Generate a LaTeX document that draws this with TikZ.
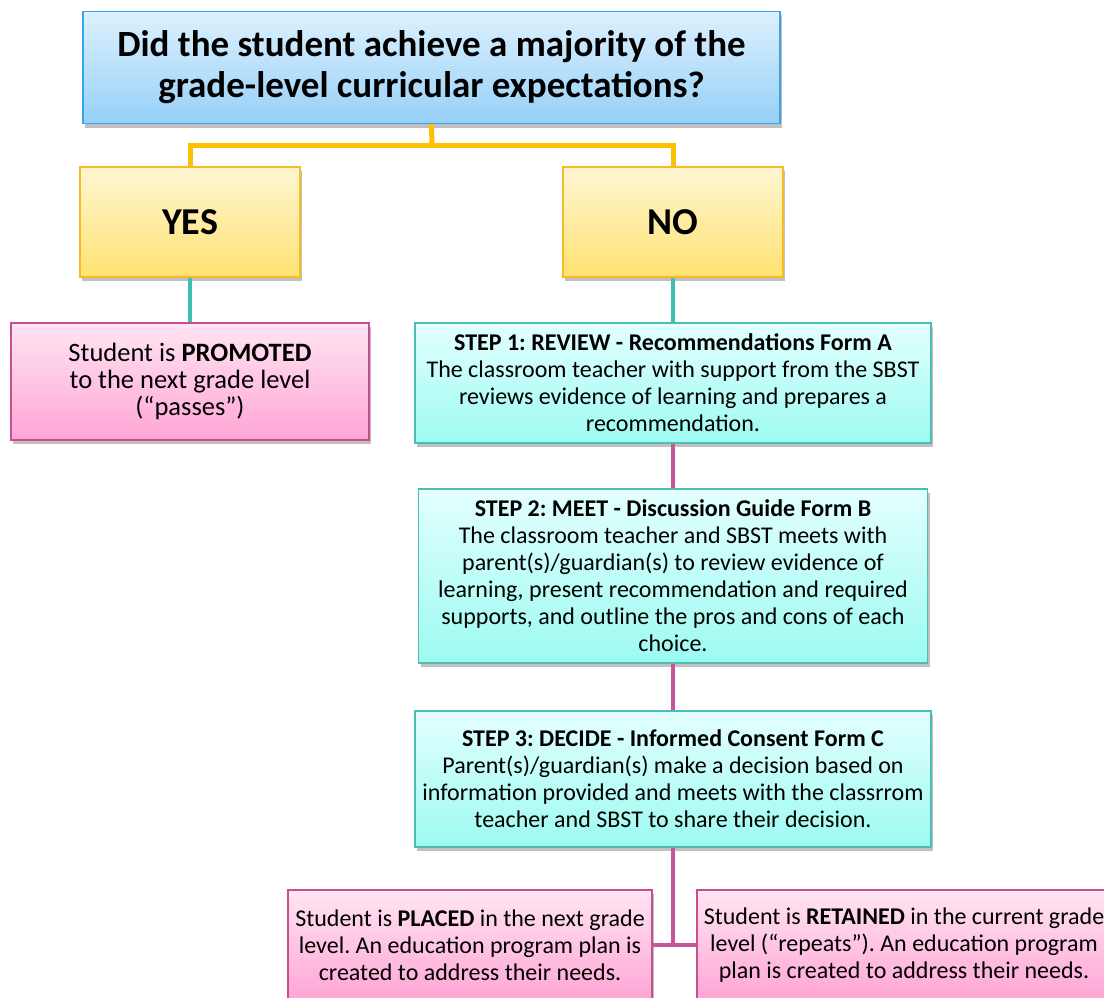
\documentclass[tikz,border=0pt]{standalone}
\usepackage{fontspec}
\setmainfont{Carlito}
\frenchspacing
\usetikzlibrary{shadows, positioning}

\definecolor{qtop}{HTML}{DDF1FE}
\definecolor{qbot}{HTML}{96D0F8}
\definecolor{qline}{HTML}{3AA2E6}
\definecolor{ytop}{HTML}{FFF6D2}
\definecolor{ybot}{HTML}{FFE272}
\definecolor{yline}{HTML}{F8BC22}
\definecolor{ptop}{HTML}{FFE5F2}
\definecolor{pbot}{HTML}{FFA5D5}
\definecolor{pline}{HTML}{C54F8F}
\definecolor{ttop}{HTML}{E3FFFE}
\definecolor{tbot}{HTML}{9CFBF1}
\definecolor{tline}{HTML}{4DBDB4}
\definecolor{gold}{HTML}{FFC000}
\definecolor{tealc}{HTML}{3FBFB2}
\definecolor{plum}{HTML}{C6559A}

\tikzset{
  box/.style={draw, line width=1.5pt, align=center, inner sep=0pt,
    drop shadow={shadow xshift=2pt, shadow yshift=-4pt, opacity=.35, fill=black!70},
    font=\fontsize{24}{27}\selectfont},
  qbox/.style={box, top color=qtop, bottom color=qbot, draw=qline,
    font=\bfseries\fontsize{37}{41}\selectfont},
  ybox/.style={box, top color=ytop, bottom color=ybot, draw=yline,
    font=\bfseries\fontsize{38}{40}\selectfont},
  pbox/.style={box, top color=ptop, bottom color=pbot, draw=pline},
  tbox/.style={box, top color=ttop, bottom color=tbot, draw=tline},
  goldline/.style={draw=gold, line width=5pt},
  tealline/.style={draw=tealc, line width=4pt},
  plumline/.style={draw=plum, line width=4pt}
}

\begin{document}
\begin{tikzpicture}[x=1pt, y=-1pt]
    \clip (0,0) rectangle (1104,998);
    \fill[white] (0,0) rectangle (1104,998);
    % Connectors
    \coordinate (split) at (432,145);
    \coordinate (join) at (673,945);
    % Question
    \node[qbox, minimum width=697pt, minimum height=112pt] (question) at (431.5,67.5)
        {Did the student achieve a majority of the\\grade-level curricular expectations?};
    % Answers
    \node[ybox, minimum width=220pt, minimum height=110pt] (yes) at (190,222) {YES};
    \node[ybox, minimum width=220pt, minimum height=110pt] (no) at (673,222) {NO};
    % Outcome of yes
    \node[pbox, minimum width=358pt, minimum height=117pt,
          font=\fontsize{26.5}{27}\selectfont] (promoted) at (190,381.5)
        {Student is \textbf{PROMOTED}\\to the next grade level\\(“passes”)};
    % Steps of no
    \node[tbox, minimum width=516pt, minimum height=120pt] (review) at (673,383)
        {\textbf{STEP 1: REVIEW - Recommendations Form A}\\
         The classroom teacher with support from the SBST\\
         reviews evidence of learning and prepares a\\
         recommendation.};
    \node[tbox, minimum width=509pt, minimum height=174pt] (meet) at (673,576)
        {\textbf{STEP 2: MEET - Discussion Guide Form B}\\
         The classroom teacher and SBST meets with\\
         parent(s)/guardian(s) to review evidence of\\
         learning, present recommendation and required\\
         supports, and outline the pros and cons of each\\
         choice.};
    \node[tbox, minimum width=516pt, minimum height=136pt] (decide) at (673,779)
        {\textbf{STEP 3: DECIDE - Informed Consent Form C}\\
         Parent(s)/guardian(s) make a decision based on\\
         information provided and meets with the classrrom\\
         teacher and SBST to share their decision.};
    % Final outcomes
    \node[pbox, minimum width=364pt, minimum height=110pt] (placed) at (470,945)
        {Student is \textbf{PLACED} in the next grade\\
         level. An education program plan is\\
         created to address their needs.};
    \node[pbox, minimum width=414pt, minimum height=110pt] (retained) at (904,945)
        {Student is \textbf{RETAINED} in the current grade\\
         level (“repeats”). An education program\\
         plan is created to address their needs.};
    % Lines
    \draw[goldline] (question.south) -- (split);
    \draw[goldline] (split) -| (yes.north);
    \draw[goldline] (split) -| (no.north);
    \draw[tealline] (yes.south) -- (promoted.north);
    \draw[tealline] (no.south) -- (review.north);
    \draw[plumline] (review.south) -- (meet.north);
    \draw[plumline] (meet.south) -- (decide.north);
    \draw[plumline] (decide.south) -- (join);
    \draw[plumline] (placed.east) -- (retained.west);
\end{tikzpicture}
\end{document}
